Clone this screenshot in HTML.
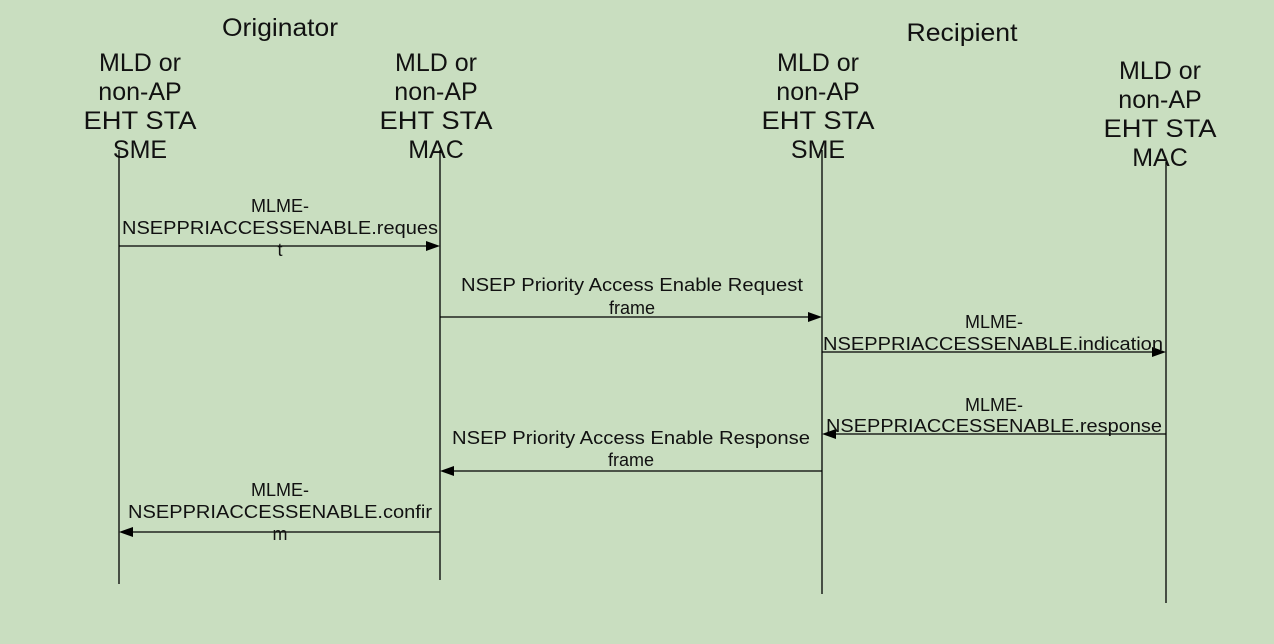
<!DOCTYPE html>
<html><head><meta charset="utf-8"><style>
html,body{margin:0;padding:0;background:#c9dec0;}
svg{display:block;}
text{font-family:"Liberation Sans",Arial,sans-serif;fill:#111;}
.h{font-size:25px;text-anchor:middle;}
.l{font-size:18px;text-anchor:middle;}
line{stroke:#000;stroke-width:1.3;}
</style></head><body>
<svg width="1274" height="644" viewBox="0 0 1274 644">
<rect width="1274" height="644" fill="#c9dec0"/>
<text class="h" x="280" y="36" textLength="116" lengthAdjust="spacingAndGlyphs">Originator</text>
<text class="h" x="962" y="41" textLength="111" lengthAdjust="spacingAndGlyphs">Recipient</text>
<text class="h" x="140" y="71">MLD or</text><text class="h" x="140" y="100">non-AP</text><text class="h" x="140" y="129" textLength="113" lengthAdjust="spacingAndGlyphs">EHT STA</text><text class="h" x="140" y="158">SME</text>
<text class="h" x="436" y="71">MLD or</text><text class="h" x="436" y="100">non-AP</text><text class="h" x="436" y="129" textLength="113" lengthAdjust="spacingAndGlyphs">EHT STA</text><text class="h" x="436" y="158">MAC</text>
<text class="h" x="818" y="71">MLD or</text><text class="h" x="818" y="100">non-AP</text><text class="h" x="818" y="129" textLength="113" lengthAdjust="spacingAndGlyphs">EHT STA</text><text class="h" x="818" y="158">SME</text>
<text class="h" x="1160" y="79">MLD or</text><text class="h" x="1160" y="108">non-AP</text><text class="h" x="1160" y="137" textLength="113" lengthAdjust="spacingAndGlyphs">EHT STA</text><text class="h" x="1160" y="166">MAC</text>
<line x1="119" y1="150" x2="119" y2="584"/>
<line x1="440" y1="150" x2="440" y2="580"/>
<line x1="822" y1="150" x2="822" y2="594"/>
<line x1="1166" y1="162" x2="1166" y2="603"/>
<line x1="119" y1="246" x2="428" y2="246"/><polygon points="440,246 426,241 426,251" fill="#000"/>
<text class="l" x="280" y="212">MLME-</text>
<text class="l" x="280" y="234" textLength="316" lengthAdjust="spacingAndGlyphs">NSEPPRIACCESSENABLE.reques</text>
<text class="l" x="280" y="256">t</text>
<line x1="440" y1="317" x2="810" y2="317"/><polygon points="822,317 808,312 808,322" fill="#000"/>
<text class="l" x="632" y="291" textLength="342" lengthAdjust="spacingAndGlyphs">NSEP Priority Access Enable Request</text>
<text class="l" x="632" y="314">frame</text>
<line x1="822" y1="352" x2="1154" y2="352"/><polygon points="1166,352 1152,347 1152,357" fill="#000"/>
<text class="l" x="994" y="328">MLME-</text>
<text class="l" x="993" y="350" textLength="340" lengthAdjust="spacingAndGlyphs">NSEPPRIACCESSENABLE.indication</text>
<line x1="834" y1="434" x2="1166" y2="434"/><polygon points="822,434 836,429 836,439" fill="#000"/>
<text class="l" x="994" y="411">MLME-</text>
<text class="l" x="994" y="432" textLength="336" lengthAdjust="spacingAndGlyphs">NSEPPRIACCESSENABLE.response</text>
<line x1="452" y1="471" x2="822" y2="471"/><polygon points="440,471 454,466 454,476" fill="#000"/>
<text class="l" x="631" y="444" textLength="358" lengthAdjust="spacingAndGlyphs">NSEP Priority Access Enable Response</text>
<text class="l" x="631" y="466">frame</text>
<line x1="131" y1="532" x2="440" y2="532"/><polygon points="119,532 133,527 133,537" fill="#000"/>
<text class="l" x="280" y="496">MLME-</text>
<text class="l" x="280" y="518" textLength="304" lengthAdjust="spacingAndGlyphs">NSEPPRIACCESSENABLE.confir</text>
<text class="l" x="280" y="540">m</text>
</svg>
</body></html>
